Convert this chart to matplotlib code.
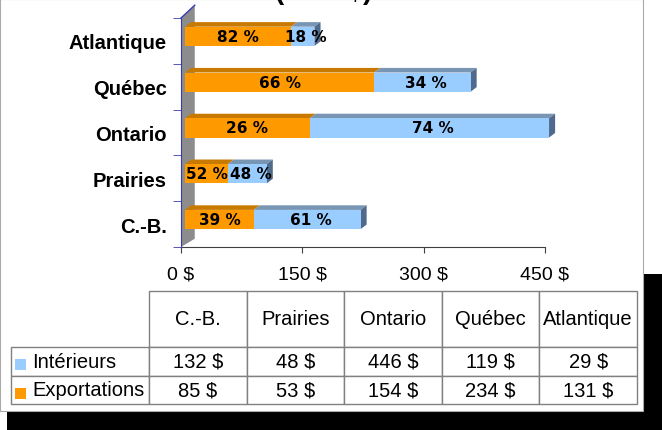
"""Stacked 3D-style bars of spending by region with data table below."""

import matplotlib
matplotlib.use('Agg')
import matplotlib.pyplot as plt
from matplotlib.patches import Polygon, Rectangle
from matplotlib.ticker import FuncFormatter

W, H = 662, 431

# Data (bottom-to-top order of the bars, left-to-right order of the table)
regions = ['C.-B.', 'Prairies', 'Ontario', 'Québec', 'Atlantique']
interieurs = [132, 48, 446, 119, 29]
exportations = [85, 53, 154, 234, 131]
series_names = ['Intérieurs', 'Exportations']
xticks = [0, 150, 300, 450]

# Colors
ORANGE = '#FF9900'
ORANGE_TOP = '#C87A00'
BLUE = '#99CCFF'
BLUE_TOP = '#7896B4'
BLUE_SIDE = '#4F6A8C'
WALL = '#8C8C8C'
AXIS_BLUE = '#3A3AB0'
GRID_GRAY = '#808080'

# 3D look (in data units)
X0 = 5          # bars start slightly right of the wall
DX = 7.5        # depth shift to the right
DY = 0.10       # depth shift upward
BAR_H = 0.42
BAR_OFF = 0.10
XMAX = 450

# table geometry (pixels)
TBL_L, TBL_R, TBL_T, TBL_B = 11, 637, 292, 405
LABEL_W = 138
HEAD_H = 56
LABEL_TEXT_X = 32

plt.rcParams['font.family'] = ['Liberation Sans', 'DejaVu Sans']


def fig_rect(x0, y0, x1, y1):
    """Pixel box (top-left origin) -> figure fraction rect."""
    return [x0 / W, 1 - y1 / H, (x1 - x0) / W, (y1 - y0) / H]


def main():
    fig = plt.figure(figsize=(W / 100, H / 100), dpi=100)
    fig.patch.set_facecolor('white')

    # slide shadow
    fig.patches.append(Rectangle((7 / W, 0), 1, 1 - 275 / H, transform=fig.transFigure,
                                 facecolor='black', edgecolor='none', zorder=-3))
    fig.patches.append(Rectangle((0, 1 - 412 / H), 643 / W, 412 / H, transform=fig.transFigure,
                                 facecolor='white', edgecolor='#aaaaaa', linewidth=0.8, zorder=-2))

    # cut-off title (only its bottom edge shows, as in the original slide)
    fig.text(324 / W, 1 + 0.5 / H, '(en M$)', ha='center', va='baseline',
             fontsize=20, fontweight='bold')

    ax = fig.add_axes(fig_rect(181, 19, 545, 248))
    ax.set_facecolor('none')
    ax.set_xlim(0, XMAX)
    n = len(regions)
    ax.set_ylim(-0.5, n - 0.5)

    # back wall
    wall = Polygon([(0, -0.5), (17, -0.32), (17, n - 0.5 + 0.28), (0, n - 0.5)],
                   closed=True, facecolor=WALL, edgecolor='none', zorder=1, clip_on=False)
    ax.add_patch(wall)
    ax.plot([0, 17], [n - 0.5, n - 0.5 + 0.28], color=AXIS_BLUE, lw=1, zorder=2, clip_on=False)

    for i, (exp, itr) in enumerate(zip(exportations, interieurs)):
        total = exp + itr
        yb = i + BAR_OFF - BAR_H / 2
        yt = yb + BAR_H
        x_mid = X0 + exp
        x_end = X0 + min(total, XMAX)
        # top faces
        ax.add_patch(Polygon([(X0, yt), (X0 + DX, yt + DY), (x_mid + DX, yt + DY), (x_mid, yt)],
                             facecolor=ORANGE_TOP, edgecolor='none', zorder=3, clip_on=False))
        ax.add_patch(Polygon([(x_mid, yt), (x_mid + DX, yt + DY), (x_end + DX, yt + DY), (x_end, yt)],
                             facecolor=BLUE_TOP, edgecolor='none', zorder=3, clip_on=False))
        # right side face
        ax.add_patch(Polygon([(x_end, yb), (x_end + DX, yb + DY), (x_end + DX, yt + DY), (x_end, yt)],
                             facecolor=BLUE_SIDE, edgecolor='none', zorder=3, clip_on=False))
    yb_all = [i + BAR_OFF for i in range(n)]
    ax.barh(yb_all, exportations, left=X0, height=BAR_H, color=ORANGE, zorder=4)
    blue_w = [min(e + t, XMAX) - e for e, t in zip(exportations, interieurs)]
    ax.barh(yb_all, blue_w, left=[X0 + e for e in exportations], height=BAR_H,
            color=BLUE, zorder=4, clip_on=False)

    # percentage labels
    for i, (exp, itr) in enumerate(zip(exportations, interieurs)):
        total = exp + itr
        p_exp = round(100 * exp / total)
        p_int = round(100 * itr / total)
        y = i + BAR_OFF
        ax.text(X0 + exp / 2, y, f'{p_exp} %', ha='center', va='center',
                fontsize=11, fontweight='bold', family='DejaVu Sans', zorder=6)
        x_end = X0 + min(total, XMAX)
        ax.text((X0 + exp + x_end) / 2 + 4, y, f'{p_int} %', ha='center', va='center',
                fontsize=11, fontweight='bold', family='DejaVu Sans', zorder=6, clip_on=False)

    # axes styling
    for s in ['top', 'right']:
        ax.spines[s].set_visible(False)
    ax.spines['left'].set_color(AXIS_BLUE)
    ax.spines['left'].set_zorder(5)
    ax.spines['bottom'].set_color('#404040')
    ax.spines['bottom'].set_bounds(0, XMAX)

    ax.set_xticks(xticks)
    ax.xaxis.set_major_formatter(FuncFormatter(lambda v, _: f'{v:g} $'))
    ax.tick_params(axis='x', length=4, color='#404040', labelsize=14, pad=9)

    ax.set_yticks(range(n))
    ax.set_yticklabels(regions, fontsize=14.5, fontweight='bold')
    ax.set_yticks([k - 0.5 for k in range(n + 1)], minor=True)
    ax.tick_params(axis='y', which='major', length=0, pad=10)
    ax.tick_params(axis='y', which='minor', length=6, color=AXIS_BLUE)

    # data table: first column holds the series names
    tax = fig.add_axes(fig_rect(TBL_L, TBL_T, TBL_R, TBL_B))
    tax.axis('off')
    tw = TBL_R - TBL_L
    th = TBL_B - TBL_T
    lab_frac = LABEL_W / tw
    col_frac = (1 - lab_frac) / len(regions)
    head_frac = HEAD_H / th
    row_frac = (1 - head_frac) / 2
    cell_text = [[series_names[0]] + [f'{v} $' for v in interieurs],
                 [series_names[1]] + [f'{v} $' for v in exportations]]
    tbl = tax.table(cellText=cell_text, colLabels=[''] + regions,
                    cellLoc='center', colLoc='center', bbox=[0, 0, 1, 1])
    tbl.auto_set_font_size(False)
    tbl.set_fontsize(14.5)
    for (r, c), cell in tbl.get_celld().items():
        cell.set_edgecolor(GRID_GRAY)
        cell.set_linewidth(1)
        cell.set_height(head_frac if r == 0 else row_frac)
        cell.set_width(lab_frac if c == 0 else col_frac)
        if c == 0:
            cell.PAD = (LABEL_TEXT_X - TBL_L) / LABEL_W
            cell.get_text().set_horizontalalignment('left')
            if r == 0:
                cell.visible_edges = ''

    # legend keys inside the row-label cells
    for k, col in enumerate([BLUE, ORANGE]):
        yc = 365 + k * 29
        fig.patches.append(Rectangle((15 / W, 1 - (yc + 6) / H), 11 / W, 11 / H,
                                     transform=fig.transFigure, facecolor=col,
                                     edgecolor='none', zorder=5))

    fig.savefig('out.png', dpi=100, facecolor='white')


if __name__ == '__main__':
    main()
